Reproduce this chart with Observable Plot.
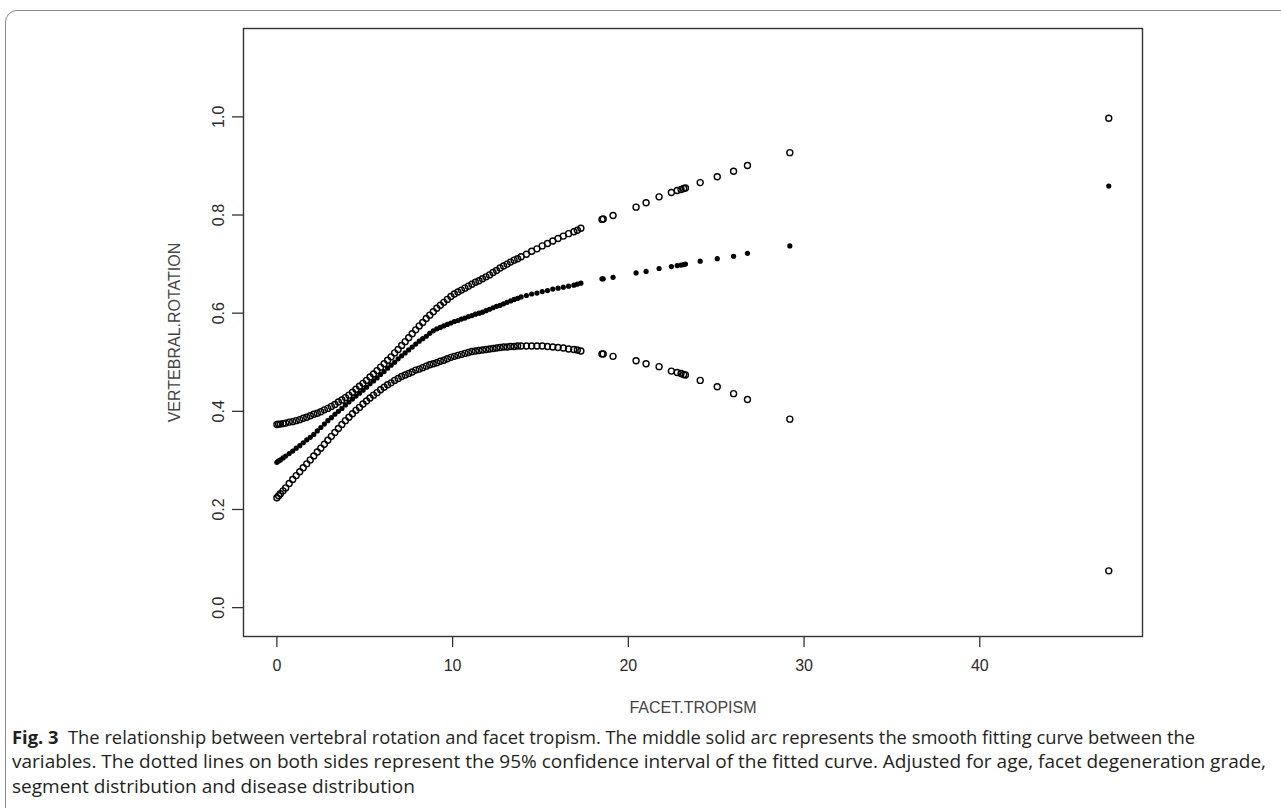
<!DOCTYPE html>
<html><head><meta charset="utf-8">
<script src="https://cdn.jsdelivr.net/npm/d3@7"></script>
<script src="https://cdn.jsdelivr.net/npm/@observablehq/plot@0.6"></script>
<style>
html,body{margin:0;padding:0;background:#fff;width:1281px;height:808px;overflow:hidden;}
#frame{position:absolute;left:5px;top:10px;width:1400px;height:900px;border:1.5px solid #8a8a8a;border-radius:12px;box-sizing:border-box;}
#chart{position:absolute;left:0;top:0;}
#caption{position:absolute;left:0;top:717px;}
</style></head><body>
<div id="frame"></div>
<div id="chart"></div>
<svg id="caption" width="1281" height="91"></svg>
<script>
// FACET.TROPISM values (x)
const facet = [0,0.1,0.2,0.35,0.5,0.7,0.9,1.1,1.3,1.5,1.7,1.9,2.1,2.3,2.5,2.7,2.9,3.1,3.3,3.5,3.7,3.9,4.1,4.3,4.5,4.7,4.9,5.1,5.3,5.5,5.7,5.9,6.1,6.3,6.5,6.7,6.9,7.1,7.3,7.5,7.7,7.9,8.1,8.3,8.5,8.7,8.9,9.1,9.3,9.5,9.7,9.9,10.1,10.3,10.5,10.7,10.9,11.1,11.3,11.5,11.7,11.9,12.1,12.3,12.5,12.7,12.9,13.1,13.3,13.5,13.7,13.9,14.2,14.5,14.8,15.1,15.4,15.7,16.0,16.3,16.6,16.9,17.1,17.3,
  18.5,18.57,19.13,20.44,21.01,21.75,22.45,22.78,23.0,23.15,23.25,24.09,25.06,25.99,26.78,29.19,47.34];
// upper 95% CI
const upper = [0.373,0.374,0.374,0.375,0.376,0.378,0.379,0.381,0.383,0.386,0.388,0.391,0.394,0.396,0.399,0.403,0.406,0.410,0.414,0.419,0.423,0.428,0.433,0.439,0.445,0.451,0.457,0.463,0.470,0.476,0.483,0.490,0.497,0.504,0.511,0.519,0.526,0.534,0.542,0.550,0.558,0.566,0.574,0.581,0.589,0.596,0.603,0.610,0.616,0.622,0.628,0.634,0.639,0.643,0.647,0.651,0.655,0.659,0.663,0.666,0.670,0.674,0.678,0.683,0.687,0.692,0.696,0.700,0.704,0.708,0.711,0.715,0.720,0.726,0.731,0.737,0.742,0.747,0.752,0.757,0.762,0.766,0.769,0.773,
  0.791,0.792,0.799,0.816,0.825,0.837,0.846,0.850,0.852,0.854,0.855,0.866,0.878,0.889,0.901,0.927,0.997];
// fitted curve
const fit = [0.296,0.299,0.301,0.305,0.309,0.314,0.319,0.325,0.330,0.336,0.342,0.347,0.353,0.360,0.367,0.374,0.381,0.387,0.394,0.400,0.406,0.413,0.419,0.425,0.431,0.437,0.443,0.449,0.456,0.462,0.468,0.475,0.481,0.488,0.494,0.500,0.507,0.513,0.519,0.525,0.531,0.537,0.543,0.548,0.553,0.559,0.564,0.568,0.571,0.574,0.577,0.580,0.583,0.585,0.588,0.590,0.593,0.595,0.598,0.600,0.602,0.605,0.608,0.611,0.614,0.616,0.619,0.622,0.625,0.628,0.630,0.633,0.636,0.639,0.641,0.644,0.646,0.649,0.651,0.653,0.655,0.657,0.659,0.661,
  0.670,0.670,0.673,0.682,0.685,0.691,0.695,0.697,0.698,0.699,0.700,0.706,0.711,0.716,0.722,0.737,0.859];
// lower 95% CI
const lower = [0.224,0.228,0.232,0.238,0.244,0.253,0.261,0.269,0.277,0.285,0.293,0.301,0.309,0.317,0.325,0.333,0.341,0.349,0.357,0.365,0.373,0.381,0.388,0.395,0.402,0.408,0.415,0.421,0.427,0.433,0.438,0.444,0.449,0.454,0.458,0.463,0.467,0.471,0.474,0.477,0.480,0.484,0.486,0.489,0.492,0.495,0.497,0.499,0.502,0.504,0.507,0.510,0.512,0.514,0.516,0.518,0.520,0.522,0.523,0.524,0.525,0.526,0.527,0.528,0.529,0.530,0.531,0.531,0.532,0.532,0.533,0.533,0.533,0.533,0.533,0.533,0.532,0.531,0.530,0.529,0.527,0.526,0.525,0.523,
  0.517,0.517,0.512,0.503,0.497,0.491,0.482,0.479,0.477,0.475,0.474,0.463,0.450,0.436,0.424,0.384,0.075];

const xTicks = [0, 10, 20, 30, 40];
const yTicks = [0, 0.2, 0.4, 0.6, 0.8, 1.0];
const xTitle = "FACET.TROPISM";
const yTitle = "VERTEBRAL.ROTATION";
const captionLines = [
  ["Fig. 3", "  The relationship between vertebral rotation and facet tropism. The middle solid arc represents the smooth fitting curve between the"],
  ["", "variables. The dotted lines on both sides represent the 95% confidence interval of the fitted curve. Adjusted for age, facet degeneration grade,"],
  ["", "segment distribution and disease distribution"]
];

const rows = facet.map((x, i) => ({x, upper: upper[i], fit: fit[i], lower: lower[i]}));

const chart = Plot.plot({
  width: 1281,
  height: 720,
  marginLeft: 243,
  marginRight: 139,
  marginTop: 28,
  marginBottom: 84,
  style: {fontFamily: "'Liberation Sans', Arial, sans-serif", fontSize: "16px", color: "#2a2a2a", background: "transparent"},
  x: {domain: [-1.9, 49.26]},
  y: {domain: [-0.0588, 1.18]},
  marks: [
    Plot.frame({stroke: "#333", strokeWidth: 1.4}),
    Plot.axisX({ticks: xTicks, tickSize: 11, tickPadding: 12, label: null, stroke: "#333", strokeWidth: 1.3}),
    Plot.axisY({ticks: yTicks, tickFormat: d3.format(".1f"), tickSize: 11, tickPadding: 9, tickRotate: -90, label: null, stroke: "#333", strokeWidth: 1.3}),
    Plot.dot(rows, {x: "x", y: "upper", r: 3, stroke: "#000", strokeWidth: 1.4, fill: "none"}),
    Plot.dot(rows, {x: "x", y: "lower", r: 3, stroke: "#000", strokeWidth: 1.4, fill: "none"}),
    Plot.dot(rows, {x: "x", y: "fit", r: 2.6, fill: "#000", stroke: "none"}),
    Plot.text([xTitle], {text: d => d, frameAnchor: "bottom", dy: 76, textAnchor: "middle", fontSize: 16, fill: "#444"}),
    Plot.text([yTitle], {text: d => d, frameAnchor: "left", dx: -69, rotate: -90, textAnchor: "middle", fontSize: 16, fill: "#444"})
  ]
});
document.getElementById("chart").appendChild(chart);

// caption
const cap = d3.select("#caption");
const widths = [1183, 1254, 403];
const baselines = [27, 51, 76];
captionLines.forEach((ln, i) => {
  const t = cap.append("text")
    .attr("x", 12).attr("y", baselines[i])
    .attr("font-family", "'Open Sans', 'Noto Sans', sans-serif")
    .attr("font-size", 17.5)
    .attr("fill", "#231f20")
    .attr("textLength", widths[i])
    .attr("lengthAdjust", "spacingAndGlyphs")
    .style("white-space", "pre");
  if (ln[0]) t.append("tspan").attr("font-weight", "bold").text(ln[0]);
  t.append("tspan").text(ln[1]);
});
</script>
</body></html>
